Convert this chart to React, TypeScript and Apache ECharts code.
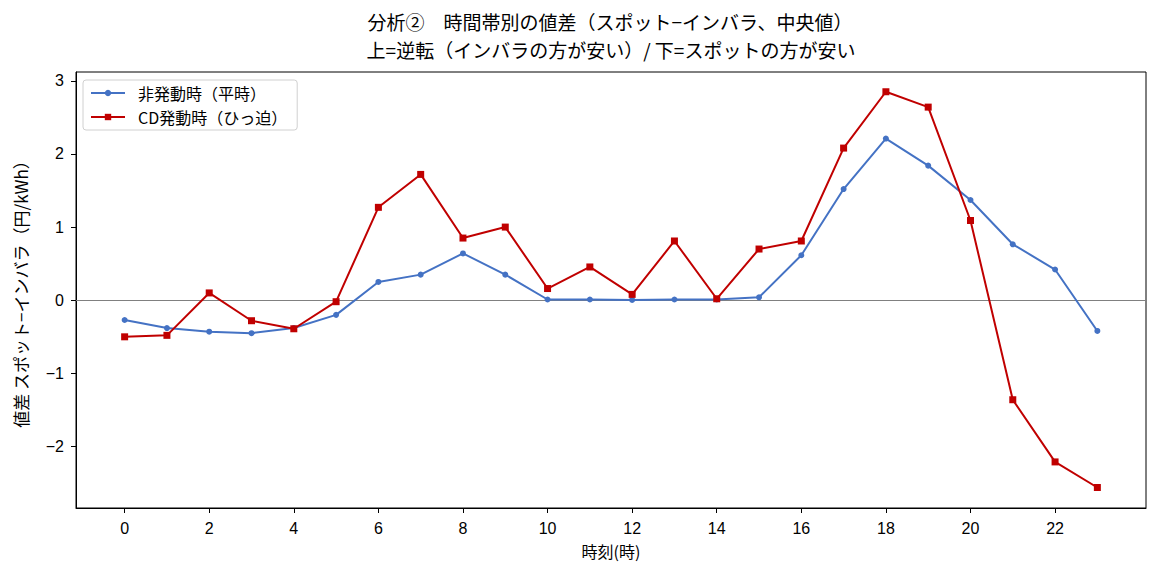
import React, { useEffect, useRef } from "react";
import * as echarts from "echarts";

const hours = [0, 1, 2, 3, 4, 5, 6, 7, 8, 9, 10, 11, 12, 13, 14, 15, 16, 17, 18, 19, 20, 21, 22, 23];
const normalValues = [-0.27, -0.38, -0.43, -0.45, -0.38, -0.2, 0.25, 0.35, 0.64, 0.35, 0.01, 0.01, 0.005, 0.01, 0.01, 0.04, 0.615, 1.52, 2.21, 1.84, 1.37, 0.765, 0.42, -0.42];
const cdValues = [-0.5, -0.48, 0.1, -0.28, -0.39, -0.02, 1.27, 1.72, 0.85, 1.0, 0.16, 0.455, 0.08, 0.81, 0.02, 0.7, 0.81, 2.08, 2.85, 2.64, 1.09, -1.36, -2.21, -2.56];
const xTicks = [0, 2, 4, 6, 8, 10, 12, 14, 16, 18, 20, 22];
const yTicks = [-2, -1, 0, 1, 2, 3];
const titleLine1 = "分析②　時間帯別の値差（スポット−インバラ、中央値）";
const titleLine2 = "上=逆転（インバラの方が安い）/ 下=スポットの方が安い";

const FONT = "'Noto Sans CJK JP', 'Noto Sans', sans-serif";
const NUMFONT = "'Liberation Sans', Arial, sans-serif";

export default function App() {
  const ref = useRef<HTMLDivElement>(null);
  useEffect(() => {
    document.body.style.margin = "0";
    const chart = echarts.init(ref.current!, undefined, { renderer: "svg" });
    chart.setOption({
      animation: false,
      backgroundColor: "#ffffff",
      textStyle: { fontFamily: FONT },
      graphic: [
        {
          type: "text",
          x: 610,
          y: 21,
          style: { text: titleLine1, textAlign: "center", textVerticalAlign: "middle", fontSize: 19, fontFamily: FONT, fill: "#000" },
        },
        {
          type: "text",
          x: 611,
          y: 49,
          style: { text: titleLine2, textAlign: "center", textVerticalAlign: "middle", fontSize: 19, fontFamily: FONT, fill: "#000" },
        },
      ],
      grid: { left: 76, right: 17, top: 72, bottom: 72, show: true, borderColor: "#000", borderWidth: 1, backgroundColor: "transparent" },
      legend: {
        orient: "vertical",
        left: 83,
        top: 80,
        itemWidth: 34,
        itemHeight: 8,
        itemGap: 8,
        padding: [5, 10, 5, 7],
        borderColor: "#d0d0d0",
        borderWidth: 1,
        borderRadius: 3,
        backgroundColor: "#fff",
        textStyle: { fontSize: 16, fontFamily: FONT, color: "#000", padding: [0, 0, 0, 8] },
        data: ["非発動時（平時）", "CD発動時（ひっ迫）"],
      },
      xAxis: {
        type: "value",
        min: -1.15,
        max: 24.15,
        name: "時刻(時)",
        nameLocation: "middle",
        nameGap: 35,
        nameTextStyle: { fontSize: 16, color: "#000", fontFamily: FONT },
        axisLine: { show: true, onZero: false, lineStyle: { color: "#000", width: 1 } },
        axisTick: { show: true, length: 5, lineStyle: { color: "#000" }, customValues: xTicks },
        axisLabel: { fontSize: 16, color: "#000", margin: 12, customValues: xTicks, fontFamily: NUMFONT },
        splitLine: { show: false },
      },
      yAxis: {
        type: "value",
        min: -2.84,
        max: 3.12,
        name: "値差 スポット−インバラ（円/kWh）",
        nameLocation: "middle",
        nameGap: 47,
        nameTextStyle: { fontSize: 17, color: "#000", fontFamily: FONT },
        axisLine: { show: true, onZero: false, lineStyle: { color: "#000", width: 1 } },
        axisTick: { show: true, length: 5, lineStyle: { color: "#000" }, customValues: yTicks },
        axisLabel: {
          fontSize: 16,
          color: "#000",
          margin: 12,
          customValues: yTicks,
          fontFamily: NUMFONT,
          formatter: (v: number) => (v < 0 ? "\u2212" + Math.abs(v) : String(v)),
        },
        splitLine: { show: false },
      },
      series: [
        {
          name: "非発動時（平時）",
          type: "line",
          data: hours.map((h, i) => [h, normalValues[i]]),
          symbol: "circle",
          symbolSize: 6,
          lineStyle: { color: "#4472C4", width: 2 },
          itemStyle: { color: "#4472C4" },
          z: 3,
          markLine: {
            silent: true,
            symbol: "none",
            label: { show: false },
            lineStyle: { color: "#808080", width: 1, type: "solid" },
            data: [{ yAxis: 0 }],
            z: 1,
          },
        },
        {
          name: "CD発動時（ひっ迫）",
          type: "line",
          data: hours.map((h, i) => [h, cdValues[i]]),
          symbol: "rect",
          symbolSize: 7,
          lineStyle: { color: "#C00000", width: 2 },
          itemStyle: { color: "#C00000" },
          z: 4,
        },
      ],
    });
    return () => chart.dispose();
  }, []);
  return <div ref={ref} style={{ width: 1163, height: 580 }} />;
}
